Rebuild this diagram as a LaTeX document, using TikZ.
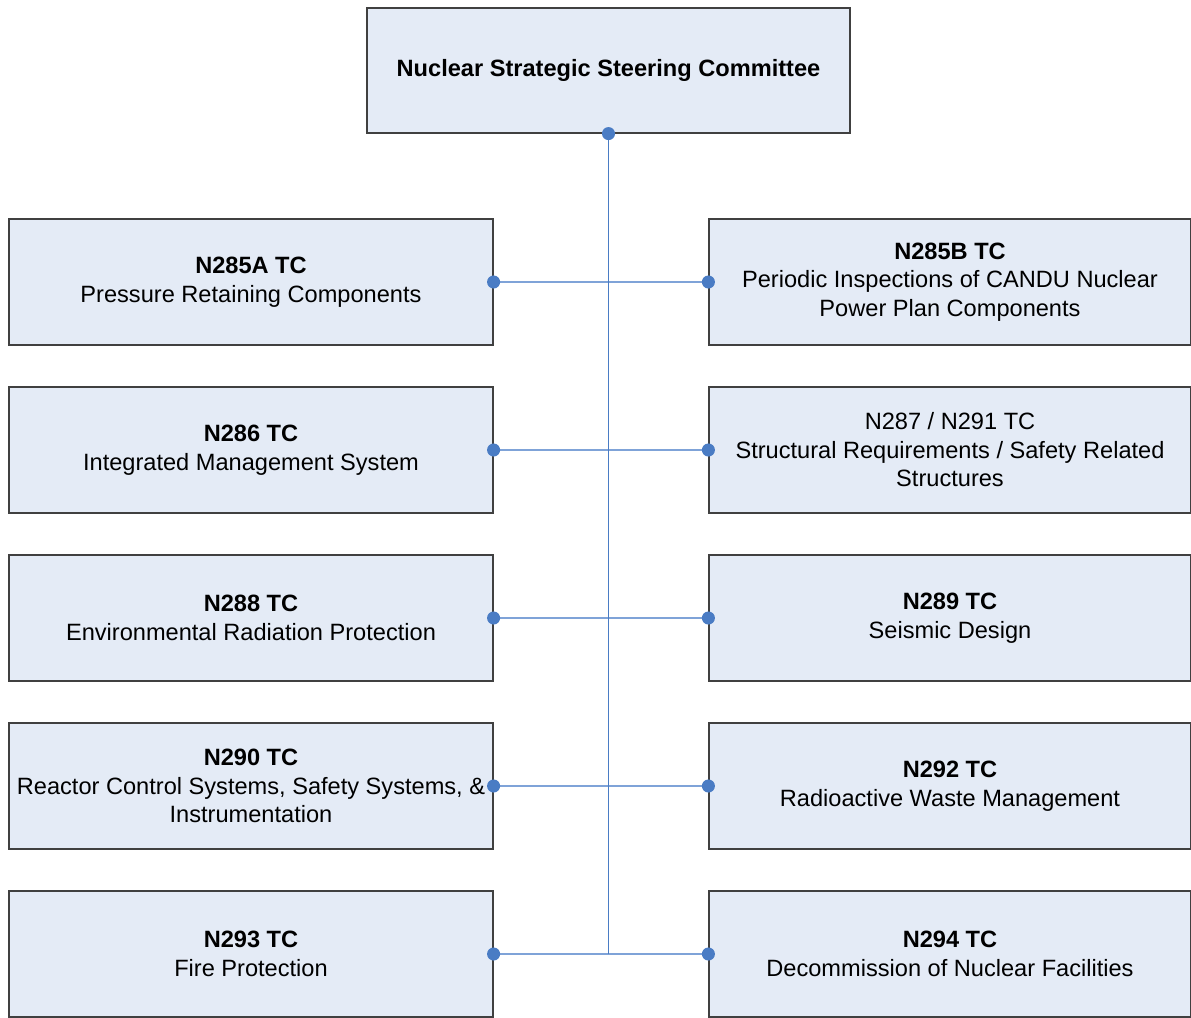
\documentclass[tikz,border=0pt]{standalone}
\usepackage{fontspec}
\setmainfont{Liberation Sans}
\usepackage{xcolor}
\usepackage{tikz}
\usetikzlibrary{calc}
\definecolor{BoxBg}{HTML}{E4EBF6}
\definecolor{BoxLine}{HTML}{404040}
\definecolor{Link}{HTML}{4A7CC4}
\definecolor{LinkL}{HTML}{7FA3D8}

\begin{document}
\begin{tikzpicture}[
  x=0.75pt, y=-0.75pt,
  every node/.style={font=\fontsize{17.7pt}{21.4pt}\selectfont},
  tc/.style={rectangle, draw=BoxLine, line width=0.9pt, fill=BoxBg,
             align=center, minimum width=363pt, minimum height=94.5pt, inner sep=2pt},
  tcr/.style={tc, minimum width=361.5pt},
  head/.style={rectangle, draw=BoxLine, line width=0.9pt, fill=BoxBg,
             align=center, minimum width=362.25pt, minimum height=93.75pt, inner sep=2pt},
  trunk/.style={draw=Link, line width=1.2pt},
  link/.style={draw=LinkL, line width=1.2pt},
  dot/.style={fill=Link},
]
\useasboundingbox (0,0) rectangle (1191,1017);
\node[head] (nssc)  at (608.5, 70.5) {\textbf{Nuclear Strategic Steering Committee}};
\node[tc]  (n285a) at (251, 282) {\textbf{N285A TC}\\Pressure Retaining Components};
\node[tcr] (n285b) at (950, 282) {\textbf{N285B TC}\\Periodic Inspections of CANDU Nuclear\\Power Plan Components};
\node[tc]  (n286)  at (251, 450) {\textbf{N286 TC}\\Integrated Management System};
\node[tcr] (n287)  at (950, 450) {N287 / N291 TC\\Structural Requirements / Safety Related\\Structures};
\node[tc]  (n288)  at (251, 618) {\textbf{N288 TC}\\Environmental Radiation Protection};
\node[tcr] (n289)  at (950, 618) {\textbf{N289 TC}\\Seismic Design};
\node[tc]  (n290)  at (251, 786) {\textbf{N290 TC}\\Reactor Control Systems, Safety Systems, \&\\Instrumentation};
\node[tcr] (n292)  at (950, 786) {\textbf{N292 TC}\\Radioactive Waste Management};
\node[tc]  (n293)  at (251, 954) {\textbf{N293 TC}\\Fire Protection};
\node[tcr] (n294)  at (950, 954) {\textbf{N294 TC}\\Decommission of Nuclear Facilities};
% committee links
\coordinate (trunkend) at (nssc.south |- n293.east);
\draw[link] (n285a.east) -- (n285b.west);
\draw[link] (n286.east)  -- (n287.west);
\draw[link] (n288.east)  -- (n289.west);
\draw[link] (n290.east)  -- (n292.west);
\draw[link] (n293.east)  -- (n294.west);
\draw[trunk] (nssc.south) -- (trunkend);
\fill[dot] (nssc.south) circle (4.9pt);
\fill[dot] (n285a.east) circle (4.9pt);
\fill[dot] (n285b.west) circle (4.9pt);
\fill[dot] (n286.east)  circle (4.9pt);
\fill[dot] (n287.west)  circle (4.9pt);
\fill[dot] (n288.east)  circle (4.9pt);
\fill[dot] (n289.west)  circle (4.9pt);
\fill[dot] (n290.east)  circle (4.9pt);
\fill[dot] (n292.west)  circle (4.9pt);
\fill[dot] (n293.east)  circle (4.9pt);
\fill[dot] (n294.west)  circle (4.9pt);
\end{tikzpicture}
\end{document}
